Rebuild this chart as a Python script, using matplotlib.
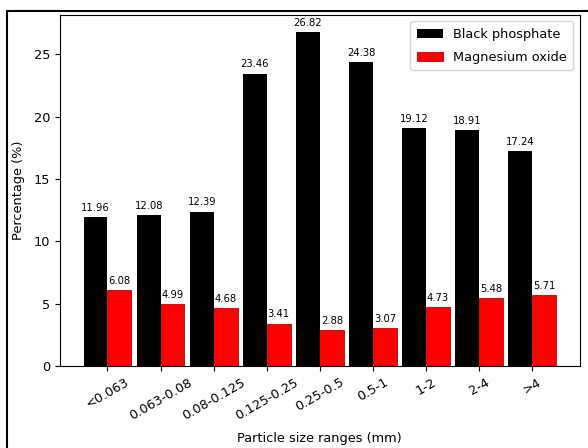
import matplotlib
matplotlib.use("Agg")
import matplotlib.pyplot as plt
import numpy as np
from matplotlib.patches import Rectangle

categories = ["<0.063", "0.063-0.08", "0.08-0.125", "0.125-0.25", "0.25-0.5",
              "0.5-1", "1-2", "2-4", ">4"]
black_phosphate = [11.96, 12.08, 12.39, 23.46, 26.82, 24.38, 19.12, 18.91, 17.24]
magnesium_oxide = [6.08, 4.99, 4.68, 3.41, 2.88, 3.07, 4.73, 5.48, 5.71]

fig = plt.figure(figsize=(5.88, 4.48), dpi=100)
ax = fig.add_axes([0.102, 0.183, 0.884, 0.7835])

x = np.arange(len(categories))
w = 0.45
b1 = ax.bar(x - w / 2, black_phosphate, w, color="black", label="Black phosphate")
b2 = ax.bar(x + w / 2, magnesium_oxide, w, color="red", edgecolor="#c00000",
            linewidth=0.6, label="Magnesium oxide")
ax.bar_label(b1, labels=[f"{v:.2f}" for v in black_phosphate], padding=3, fontsize=7.2)
ax.bar_label(b2, labels=[f"{v:.2f}" for v in magnesium_oxide], padding=3, fontsize=7.2)

ax.set_xticks(x)
ax.set_xticklabels(categories, rotation=30, ha="center", fontsize=9.3)
ax.tick_params(axis="y", labelsize=9.3)
ax.set_xlabel("Particle size ranges (mm)", fontsize=9.3, labelpad=7)
ax.set_ylabel("Percentage (%)", fontsize=9.3, labelpad=6)
ax.legend(loc="upper right", fontsize=9.3, labelspacing=0.75, borderpad=0.5)

# outer frame around the figure
fig.patches.append(Rectangle((7 / 588, -0.05), 1.2, 1 - 11 / 448 + 0.05,
                             transform=fig.transFigure, fill=False,
                             edgecolor="black", linewidth=1.5))

fig.savefig("out.png", dpi=100)
